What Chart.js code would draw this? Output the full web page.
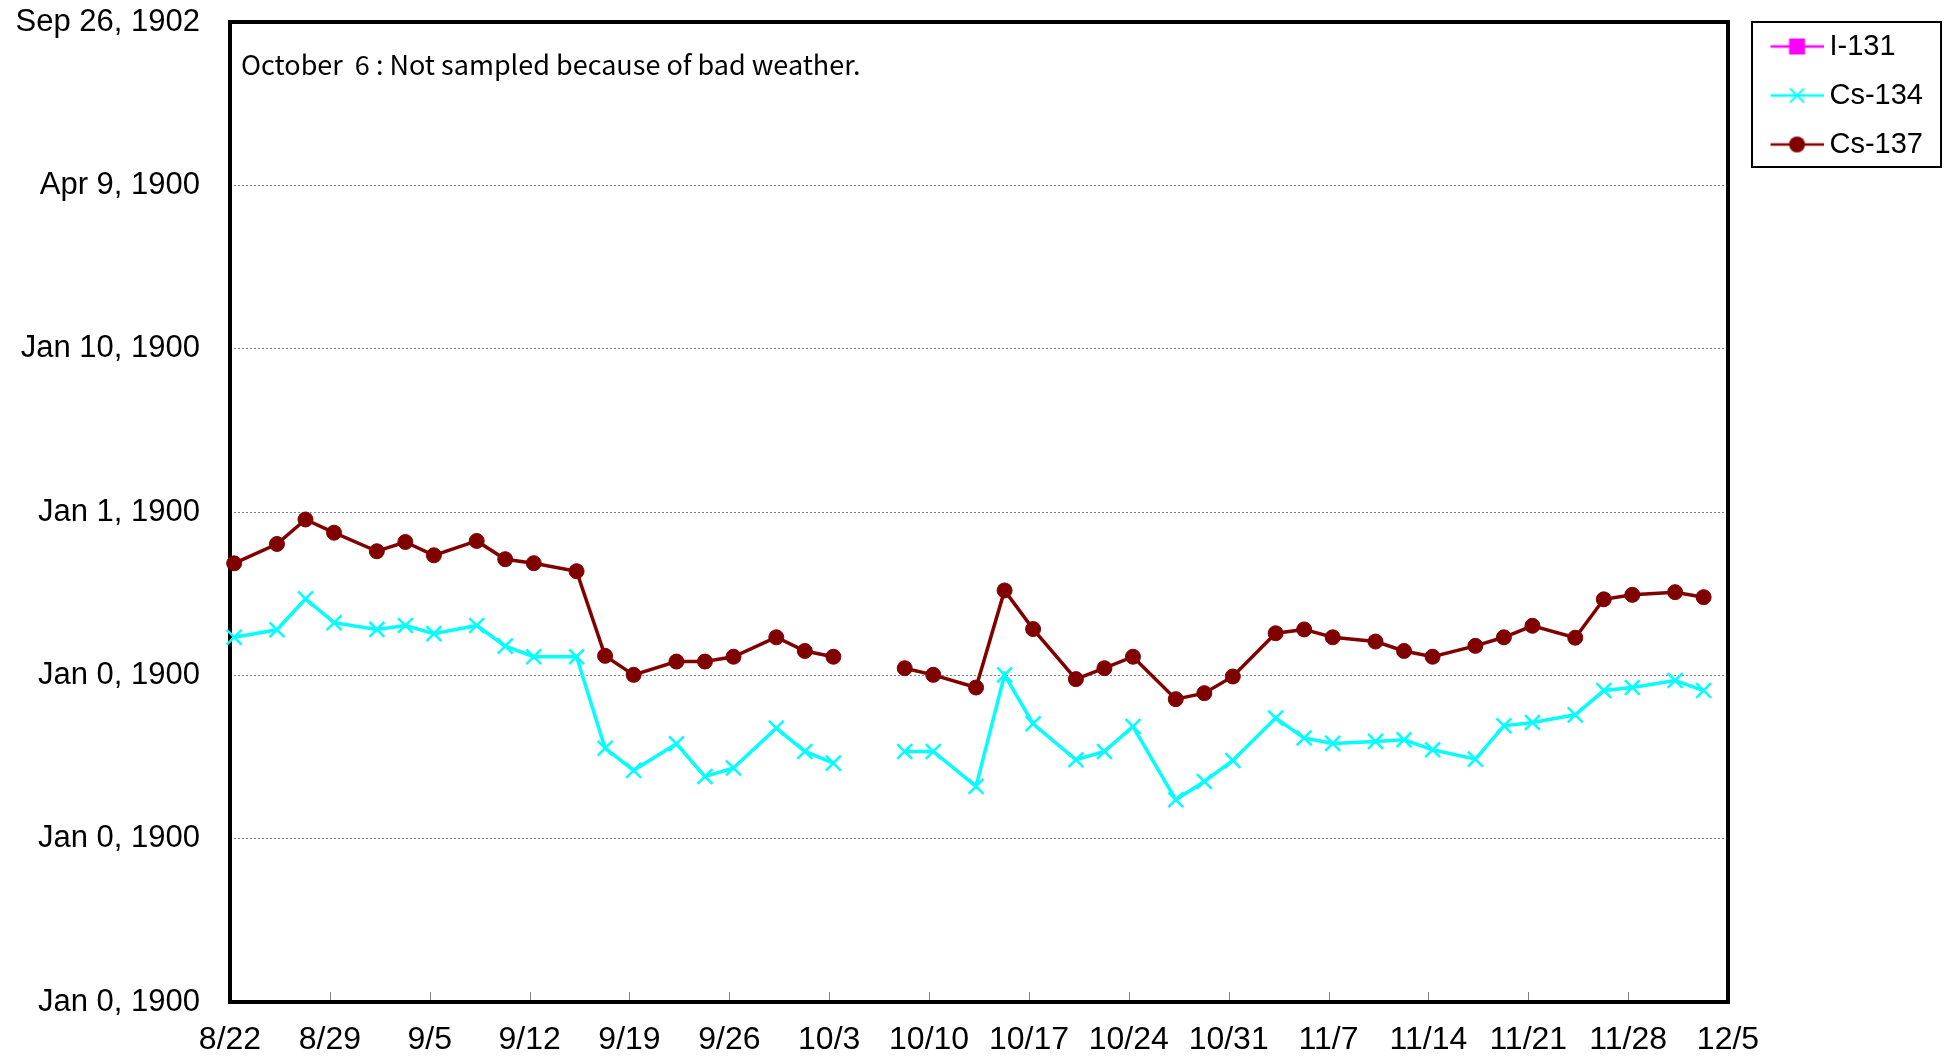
<!DOCTYPE html>
<html>
<head>
<meta charset="utf-8">
<script src="https://cdn.jsdelivr.net/npm/chart.js@4.4.0/dist/chart.umd.min.js"></script>
<style>
    html, body { margin: 0; padding: 0; background: #fff; }
    #wrap { width: 1957px; height: 1060px; }
</style>
</head>
<body>
<div id="wrap"><canvas id="chart" width="1957" height="1060"></canvas></div>
<script>
// sampling days (10/6 not sampled)
const sampleDates = [
    '8/22', '8/25', '8/27', '8/29', '9/1', '9/3', '9/5', '9/8', '9/10', '9/12',
    '9/15', '9/17', '9/19', '9/22', '9/24', '9/26', '9/29', '10/1', '10/3', '10/6',
    '10/8', '10/10', '10/13', '10/15', '10/17', '10/20', '10/22', '10/24', '10/27', '10/29',
    '10/31', '11/3', '11/5', '11/7', '11/10', '11/12', '11/14', '11/17', '11/19', '11/21',
    '11/24', '11/26', '11/28', '12/1', '12/3'
];

const i131 = sampleDates.map(() => null);

const cs134 = [
    0.171, 0.190, 0.294, 0.210, 0.191, 0.202, 0.180, 0.202, 0.151, 0.130,
    0.130, 0.0358, 0.0262, 0.0381, 0.0240, 0.0271, 0.0475, 0.0342, 0.0290, null,
    0.0342, 0.0342, 0.0209, 0.1007, 0.0505, 0.0304, 0.0342, 0.0486, 0.0173, 0.0224,
    0.0301, 0.0547, 0.0413, 0.0383, 0.0394, 0.0403, 0.0350, 0.0307, 0.0491, 0.0514,
    0.0573, 0.0807, 0.0842, 0.0929, 0.0807
];

const cs137 = [
    0.485, 0.637, 0.900, 0.747, 0.575, 0.655, 0.543, 0.665, 0.514, 0.486,
    0.434, 0.1316, 0.1007, 0.1214, 0.1214, 0.130, 0.171, 0.141, 0.130, null,
    0.1106, 0.1007, 0.0842, 0.331, 0.192, 0.0948, 0.1106, 0.130, 0.0715, 0.0778,
    0.0984, 0.181, 0.191, 0.171, 0.161, 0.141, 0.130, 0.1515, 0.171, 0.201,
    0.170, 0.292, 0.311, 0.323, 0.301
];

const xTickLabels = ['8/22', '8/29', '9/5', '9/12', '9/19', '9/26', '10/3', '10/10',
    '10/17', '10/24', '10/31', '11/7', '11/14', '11/21', '11/28', '12/5'];

// the original sheet formatted the log axis as dates
const yTickValues = [0.001, 0.01, 0.1, 1, 10, 100, 1000];
const yTickLabels = ['Jan 0, 1900', 'Jan 0, 1900', 'Jan 0, 1900', 'Jan 1, 1900',
    'Jan 10, 1900', 'Apr 9, 1900', 'Sep 26, 1902'];

const note = 'October  6 : Not sampled because of bad weather.';

const YEAR = 2011;
const START = new Date(YEAR, 7, 22);
const SAMPLE_HOUR = 7;   // samples are taken in the morning

function dayOf(md) {
    const [m, d] = md.split('/').map(Number);
    return Math.round((new Date(YEAR, m - 1, d) - START) / 86400000);
}

const toPoints = vals => sampleDates.map((d, i) => ({ x: dayOf(d) + SAMPLE_HOUR / 24, y: vals[i] }));

const FONT = "'Liberation Sans', Arial, sans-serif";

function legendIcon(ds) {
    const c = document.createElement('canvas');
    c.width = 84;
    c.height = 22;
    const ctx = c.getContext('2d');
    const cx = 57.5, cy = 11;
    ctx.strokeStyle = ds.borderColor;
    ctx.fillStyle = ds.pointBackgroundColor;
    ctx.lineWidth = 2.5;
    ctx.beginPath();
    ctx.moveTo(31, cy);
    ctx.lineTo(84, cy);
    ctx.stroke();
    if (ds.pointStyle === 'rect') {
        ctx.fillRect(cx - 8, cy - 8, 16, 16);
    } else if (ds.pointStyle === 'circle') {
        ctx.beginPath();
        ctx.arc(cx, cy, 8, 0, Math.PI * 2);
        ctx.fill();
    } else {
        ctx.lineWidth = 2;
        ctx.beginPath();
        ctx.moveTo(cx - 7, cy - 7); ctx.lineTo(cx + 7, cy + 7);
        ctx.moveTo(cx + 7, cy - 7); ctx.lineTo(cx - 7, cy + 7);
        ctx.stroke();
    }
    return c;
}

const framePlugin = {
    id: 'frame',
    beforeDatasetsDraw(chart) {
        const { ctx, chartArea: a } = chart;
        const x = chart.scales.x;
        ctx.save();
        // small inside tick marks on the date axis
        ctx.strokeStyle = '#808080';
        ctx.lineWidth = 1;
        x.ticks.forEach((t, i) => {
            if (i === 0 || i === x.ticks.length - 1) return;
            const px = Math.round(x.getPixelForValue(t.value)) + 0.5;
            ctx.beginPath();
            ctx.moveTo(px, a.bottom);
            ctx.lineTo(px, a.bottom - 10);
            ctx.stroke();
        });
        ctx.strokeStyle = '#000';
        ctx.lineWidth = 4;
        ctx.strokeRect(a.left, a.top, a.right - a.left, a.bottom - a.top);

        ctx.fillStyle = '#000';
        ctx.font = "27px 'Noto Sans CJK JP', sans-serif";
        ctx.textBaseline = 'middle';
        ctx.fillText(note, a.left + 11, a.top + 43);
        ctx.restore();
    },
    afterDraw(chart) {
        const { ctx, legend } = chart;
        ctx.save();
        ctx.strokeStyle = '#000';
        ctx.lineWidth = 2;
        ctx.strokeRect(legend.left + 24, legend.top + 10, 189, 145);
        ctx.restore();
    }
};

const datasets = [
    {
        label: 'I-131',
        data: toPoints(i131),
        borderColor: '#FF00FF',
        backgroundColor: '#FF00FF',
        pointBackgroundColor: '#FF00FF',
        pointStyle: 'rect',
        pointRadius: 8,
        borderWidth: 3.5
    },
    {
        label: 'Cs-134',
        data: toPoints(cs134),
        borderColor: '#00FFFF',
        backgroundColor: '#00FFFF',
        pointBackgroundColor: '#00FFFF',
        pointBorderColor: '#00FFFF',
        pointStyle: 'crossRot',
        pointRadius: 10.5,
        pointBorderWidth: 2.5,
        borderWidth: 3.5
    },
    {
        label: 'Cs-137',
        data: toPoints(cs137),
        borderColor: '#800000',
        backgroundColor: '#800000',
        pointBackgroundColor: '#800000',
        pointBorderColor: '#800000',
        pointStyle: 'circle',
        pointRadius: 7.5,
        pointBorderWidth: 1,
        borderWidth: 3.5
    }
];

new Chart(document.getElementById('chart'), {
    type: 'line',
    data: { datasets: datasets.map(ds => ({ ...ds, spanGaps: false, tension: 0, clip: 12, fill: false })) },
    plugins: [framePlugin],
    options: {
        responsive: false,
        animation: false,
        devicePixelRatio: 1,
        layout: { padding: { left: 0, top: 12, right: 24, bottom: 0 } },
        plugins: {
            title: { display: true, text: '', fullSize: false, padding: 0, font: { size: 10, lineHeight: 1 } },
            tooltip: { enabled: false },
            legend: {
                position: 'right',
                align: 'start',
                labels: {
                    color: '#000',
                    font: { family: FONT, size: 29 },
                    padding: 20,
                    usePointStyle: true,
                    pointStyleWidth: 67,
                    generateLabels(chart) {
                        return chart.data.datasets.map((ds, i) => ({
                            text: ds.label,
                            pointStyle: legendIcon(ds),
                            fillStyle: ds.borderColor,
                            strokeStyle: ds.borderColor,
                            lineWidth: 0,
                            hidden: false,
                            datasetIndex: i,
                            fontColor: '#000'
                        }));
                    }
                }
            }
        },
        scales: {
            x: {
                type: 'linear',
                min: 0,
                max: dayOf('12/5'),
                afterBuildTicks(scale) {
                    scale.ticks = xTickLabels.map(l => ({ value: dayOf(l) }));
                },
                afterFit(scale) {
                    scale.height = 58;
                    scale.paddingLeft = 0;
                    scale.paddingRight = 0;
                },
                grid: { display: false, drawTicks: false },
                border: { display: false },
                ticks: {
                    autoSkip: false,
                    maxRotation: 0,
                    padding: 19,
                    color: '#000',
                    font: { family: FONT, size: 32 },
                    callback: (v) => xTickLabels.find(l => dayOf(l) === v) || ''
                }
            },
            y: {
                type: 'logarithmic',
                min: 0.001,
                max: 1000,
                afterBuildTicks(scale) {
                    scale.ticks = yTickValues.map(v => ({ value: v }));
                },
                afterFit(scale) {
                    scale.width = 230;
                    scale.paddingTop = 0;
                    scale.paddingBottom = 0;
                },
                grid: { color: '#808080', lineWidth: 1, drawTicks: false },
                border: { display: false, dash: [2, 2] },
                ticks: {
                    padding: 30,
                    color: '#000',
                    font: { family: FONT, size: 31 },
                    callback: (v, i) => yTickLabels[i]
                }
            }
        }
    }
});
</script>
</body>
</html>
